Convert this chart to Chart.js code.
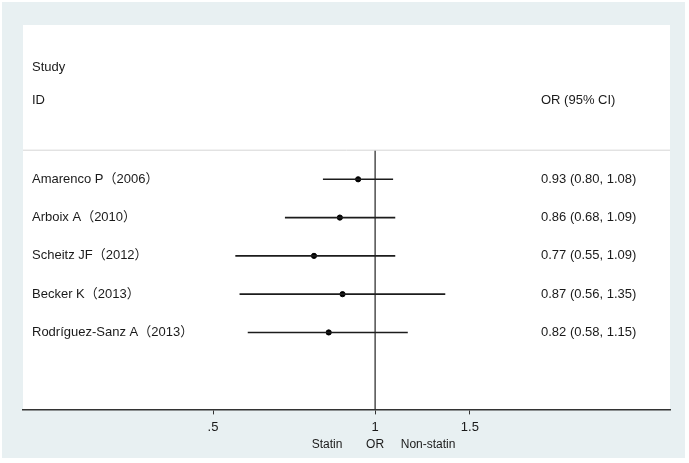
<!DOCTYPE html>
<html>
<head>
<meta charset="utf-8">
<script src="https://cdn.jsdelivr.net/npm/chart.js@4/dist/chart.umd.min.js"></script>
<style>
  html, body { margin: 0; padding: 0; background: #fff; }
  #wrap { width: 689px; height: 463px; }
</style>
</head>
<body>
<div id="wrap"><canvas id="forest" width="689" height="463"></canvas></div>
<script>
// study rows, top to bottom
const studies = ["Amarenco P（2006）", "Arboix A（2010）", "Scheitz JF（2012）", "Becker K（2013）", "Rodríguez-Sanz A（2013）"]
const oddsRatio = [0.93, 0.86, 0.77, 0.87, 0.82]
const ciLow = [0.80, 0.68, 0.55, 0.56, 0.58]
const ciHigh = [1.08, 1.09, 1.09, 1.35, 1.15]
const orText = ["0.93 (0.80, 1.08)", "0.86 (0.68, 1.09)", "0.77 (0.55, 1.09)", "0.87 (0.56, 1.35)", "0.82 (0.58, 1.15)"]

// axis ticks
const xTicks = [0.5, 1, 1.5]
const xTickLabels = [".5", "1", "1.5"]

const FONT = "'Liberation Sans', Arial, 'Noto Sans CJK SC', sans-serif"
const xMin = 0.2218, xMax = 3.53
const yTop = -4.03, yBottom = 6.01
const sepRow = -0.76 // header separator

// one line dataset per confidence interval
const ciSets = studies.map((s, i) => ({
  type: "line",
  data: [{ x: ciLow[i], y: i }, { x: ciHigh[i], y: i }],
  borderColor: "#1c1c1c",
  borderWidth: 1.6,
  pointRadius: 0,
  showLine: true,
}))

const forestText = {
  id: "forestText",
  beforeDraw(chart) {
    const { ctx, chartArea: a } = chart
    ctx.save()
    ctx.fillStyle = "#ffffff"
    ctx.fillRect(0, 0, chart.width, chart.height)
    ctx.fillStyle = "#e8f0f2"
    ctx.fillRect(2, 2, chart.width - 6, chart.height - 7)
    ctx.fillStyle = "#ffffff"
    ctx.fillRect(a.left, a.top, a.right - a.left, a.bottom - a.top)
    ctx.restore()
  },
  afterDraw(chart) {
    const { ctx, chartArea: a, scales } = chart
    const y = v => scales.y.getPixelForValue(v)
    const colL = a.left + 9
    const colR = a.right - 129
    ctx.save()
    ctx.fillStyle = "#1a1a1a"
    ctx.font = "13px " + FONT
    ctx.textBaseline = "middle"
    ctx.textAlign = "left"
    ctx.fillText("Study", colL, y(-2.93))
    ctx.fillText("ID", colL, y(-2.07))
    ctx.fillText("OR (95% CI)", colR, y(-2.07))
    studies.forEach((s, i) => {
      ctx.fillText(s, colL, y(i))
      ctx.fillText(orText[i], colR, y(i))
    })
    // axis caption
    const x1 = scales.x.getPixelForValue(1)
    const capY = a.bottom + 35
    ctx.font = "12px " + FONT
    ctx.textAlign = "center"
    ctx.fillText("Statin", x1 - 48, capY)
    ctx.fillText("OR", x1, capY)
    ctx.fillText("Non-statin", x1 + 53, capY)
    ctx.restore()
  },
}

new Chart(document.getElementById("forest"), {
  type: "scatter",
  data: {
    datasets: [
      {
        type: "line",
        data: [{ x: xMin, y: sepRow }, { x: xMax, y: sepRow }],
        borderColor: "#d6d6d6",
        borderWidth: 1,
        pointRadius: 0,
      },
      {
        type: "line",
        data: [{ x: 1, y: sepRow }, { x: 1, y: yBottom }],
        borderColor: "#222222",
        borderWidth: 1.2,
        pointRadius: 0,
      },
      ...ciSets,
      {
        data: oddsRatio.map((v, i) => ({ x: v, y: i })),
        backgroundColor: "#000000",
        borderColor: "#000000",
        pointRadius: 2.6,
        pointStyle: "circle",
      },
    ],
  },
  options: {
    responsive: false,
    animation: false,
    layout: { padding: { left: 23, right: 19, top: 25, bottom: 23 } },
    plugins: { legend: { display: false }, tooltip: { enabled: false } },
    scales: {
      x: {
        type: "logarithmic",
        min: xMin,
        max: xMax,
        afterBuildTicks: axis => { axis.ticks = xTicks.map(v => ({ value: v })) },
        ticks: {
          autoSkip: false,
          maxRotation: 0,
          padding: 5,
          color: "#1a1a1a",
          font: { family: FONT, size: 13 },
          callback: v => xTickLabels[xTicks.indexOf(v)],
        },
        grid: { drawOnChartArea: false, drawTicks: true, tickLength: 5, color: "#333333" },
        border: { display: true, color: "#333333", width: 1.5 },
      },
      y: {
        type: "linear",
        display: false,
        reverse: true,
        min: yTop,
        max: yBottom,
      },
    },
  },
  plugins: [forestText],
})
</script>
</body>
</html>
